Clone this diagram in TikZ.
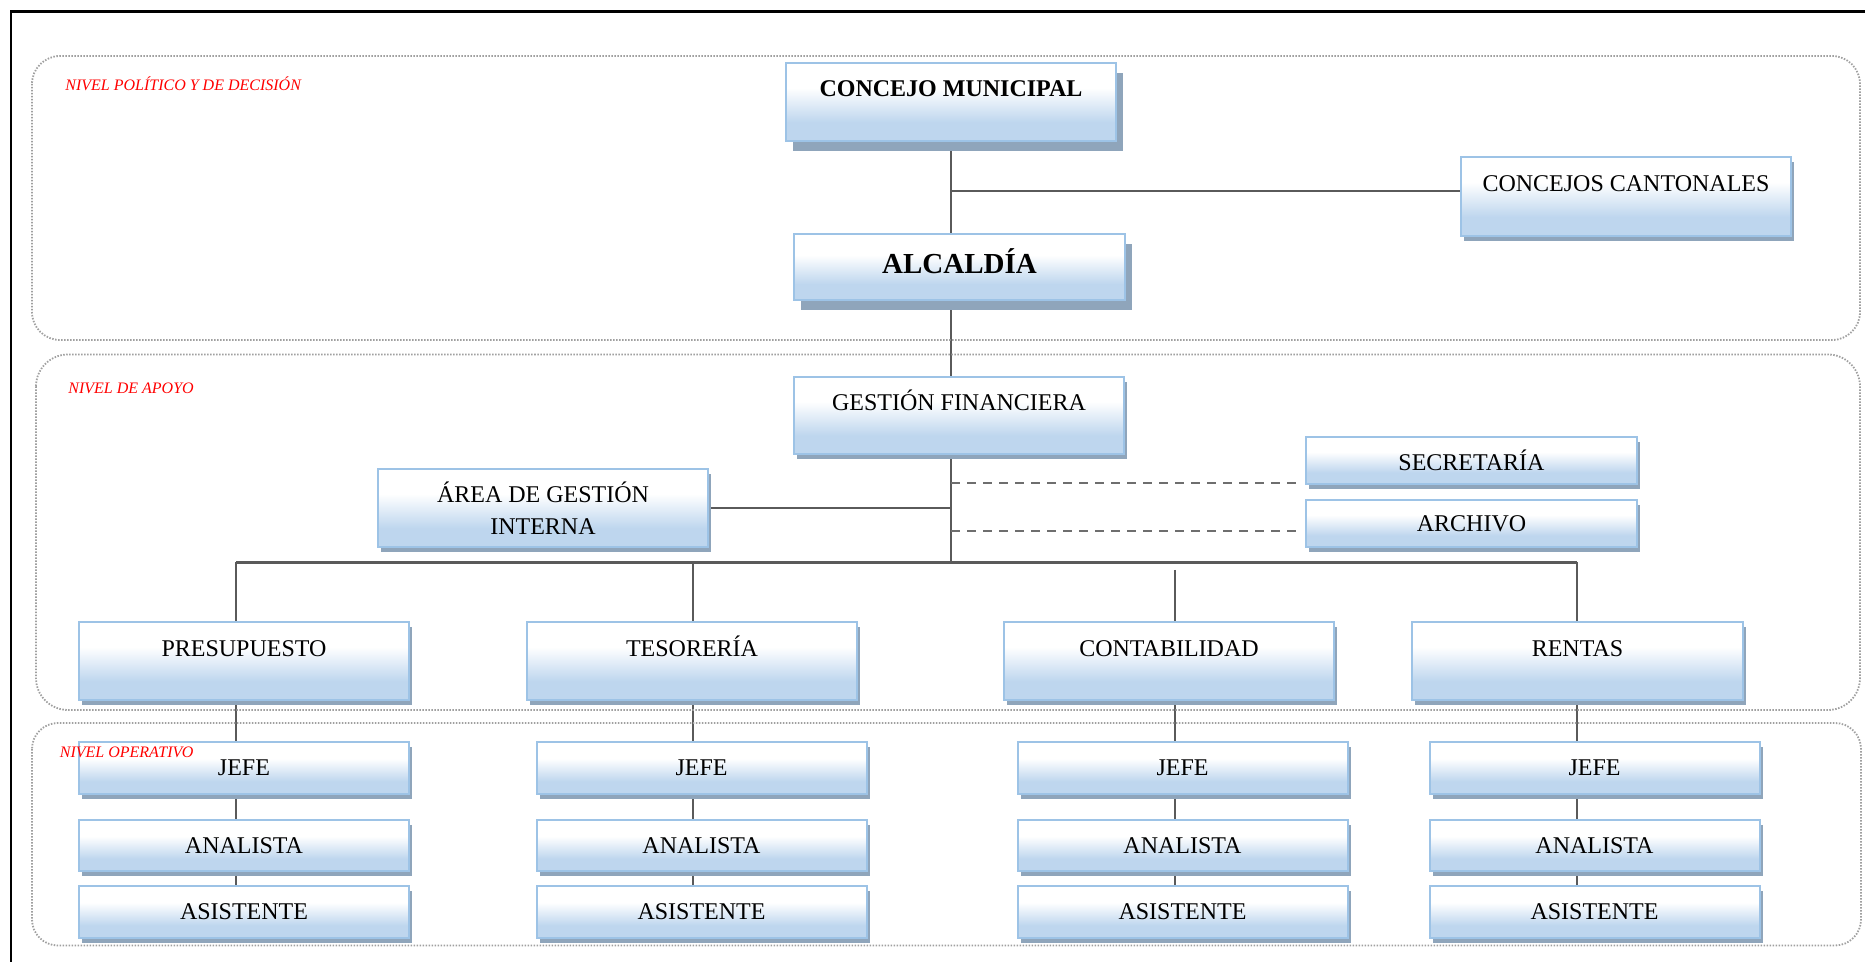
\documentclass[tikz,border=0pt]{standalone}
\usepackage{fontspec}
\setmainfont{Liberation Serif}
\usetikzlibrary{shadows}
\definecolor{boxtop}{RGB}{255,255,255}
\definecolor{boxbot}{RGB}{190,214,238}
\definecolor{boxedge}{RGB}{157,195,230}
\definecolor{shadowc}{RGB}{143,165,187}
\definecolor{connc}{RGB}{90,90,90}
\definecolor{dashc}{RGB}{110,110,110}
\definecolor{dotc}{RGB}{160,160,160}
\definecolor{lvlred}{RGB}{255,0,0}
\pgfdeclareverticalshading{boxshade}{100bp}{color(0bp)=(boxbot); color(37bp)=(boxbot); color(59bp)=(boxtop); color(100bp)=(boxtop)}
\pgfdeclarelayer{background}
\pgfsetlayers{background,main}
\tikzset{
  orgbox/.style={rectangle, draw=boxedge, line width=1pt, shade, shading=boxshade,
    inner sep=0pt, minimum width=165pt, align=center,
    font=\fontsize{12pt}{14.4pt}\selectfont},
  bx/.style={orgbox, drop shadow={shadow xshift=1.5pt, shadow yshift=-2.5pt, fill=shadowc, opacity=1}},
  bigbx/.style={orgbox, drop shadow={shadow xshift=3.5pt, shadow yshift=-5pt, fill=shadowc, opacity=1}},
  toptext/.style={text height=8pt, text depth=#1},
  conn/.style={draw=connc, line width=1.25pt},
  dashln/.style={draw=dashc, line width=1.2pt, dash pattern=on 4.5pt off 3.5pt},
  region/.style={draw=dotc, line width=0.9pt, dash pattern=on 0.75pt off 0.75pt},
  lvl/.style={font=\fontsize{8pt}{9.6pt}\selectfont\itshape, text=lvlred, inner sep=0pt, anchor=base west},
  frameln/.style={draw=black, line width=1.2pt}
}
\begin{document}
\begin{tikzpicture}[x=0.5pt, y=-0.5pt]
\useasboundingbox (0,0) rectangle (1865,962);
% outer frame (top and left)
\draw[frameln] (11,962) -- (11,11.5) -- (1865,11.5);
% level regions
\draw[region, rounded corners=14pt] (32,56) rectangle (1860,340);
\draw[region, rounded corners=16pt] (36,354.5) rectangle (1860,710);
\draw[region, rounded corners=13pt] (32,723) rectangle (1861,945.5);

% top level
\node[bigbx, toptext=13pt, minimum height=39pt, font=\fontsize{12pt}{14.4pt}\selectfont\bfseries] (cm) at (951,102) {CONCEJO MUNICIPAL};
\node[bx, toptext=12.5pt, minimum height=39.5pt] (cc) at (1626,196.5) {CONCEJOS CANTONALES};
\node[bigbx, text height=9.6pt, text depth=3pt, minimum width=165.5pt, minimum height=33pt, font=\fontsize{14.5pt}{17pt}\selectfont\bfseries] (alc) at (959.5,267) {ALCALDÍA};

% support level
\node[bx, toptext=13pt, minimum height=38.5pt] (gf) at (959,415.5) {GESTIÓN FINANCIERA};
\node[bx, minimum height=39pt] (area) at (543,508) {ÁREA DE GESTIÓN\\[1.6pt]INTERNA};
\node[bx, minimum width=165.5pt, minimum height=23.5pt] (sec) at (1471.5,460.5) {SECRETARÍA};
\node[bx, minimum width=165.5pt, minimum height=23.5pt] (arch) at (1471.5,523.5) {ARCHIVO};
\node[bx, toptext=12pt, minimum height=39pt] (pre) at (244,661) {PRESUPUESTO};
\node[bx, toptext=12pt, minimum height=39pt] (tes) at (692,661) {TESORERÍA};
\node[bx, toptext=12pt, minimum height=39pt] (con) at (1169,661) {CONTABILIDAD};
\node[bx, toptext=12pt, minimum width=165.5pt, minimum height=39pt] (ren) at (1577.5,661) {RENTAS};

% operative level
\foreach \c/\x in {1/244, 2/701.5, 3/1182.5, 4/1594.5} {
  \node[bx, minimum height=26pt] (j\c) at (\x,768) {JEFE};
  \node[bx, minimum height=25.5pt] (a\c) at (\x,845.5) {ANALISTA};
  \node[bx, minimum height=26pt] (s\c) at (\x,912) {ASISTENTE};
}

% connectors
\begin{pgfonlayer}{background}
\draw[conn] (cm.south) -- (cm.south |- alc.north);
\coordinate (jcc) at (951,191);
\draw[conn] (jcc) -- (jcc -| cc.west);
\draw[conn] (cm.south |- alc.south) -- (cm.south |- gf.north);
\coordinate (bus) at (951,562.5);
\draw[conn] (cm.south |- gf.south) -- (bus);
\draw[conn] (area.east) -- (area.east -| bus);
\coordinate (ds) at (951,483);
\coordinate (da) at (951,531);
\draw[dashln, shorten >=4.5pt] (ds) -- (ds -| sec.west);
\draw[dashln, shorten >=4.5pt] (da) -- (da -| arch.west);
\coordinate (b1) at (236,562.5);
\coordinate (b2) at (693,562.5);
\coordinate (b3) at (1175,570);
\coordinate (b4) at (1577,562.5);
\draw[conn] (b1) -- (b4);
\draw[conn] (b1) -- (b1 |- pre.north);
\draw[conn] (b2) -- (b2 |- tes.north);
\draw[conn] (b3) -- (b3 |- con.north);
\draw[conn] (b4) -- (b4 |- ren.north);
\foreach \c/\t in {1/pre, 2/tes, 3/con, 4/ren} {
  \draw[conn] (b\c |- \t.south) -- (b\c |- j\c.north);
  \draw[conn] (b\c |- j\c.south) -- (b\c |- a\c.north);
  \draw[conn] (b\c |- a\c.south) -- (b\c |- s\c.north);
}
\end{pgfonlayer}

% level labels
\node[lvl] (l1) at (65,91) {NIVEL POLÍTICO Y DE DECISIÓN};
\node[lvl] (l2) at (68,393.3) {NIVEL DE APOYO};
\node[lvl] (l3) at (59.5,757.3) {NIVEL OPERATIVO};
\end{tikzpicture}
\end{document}
